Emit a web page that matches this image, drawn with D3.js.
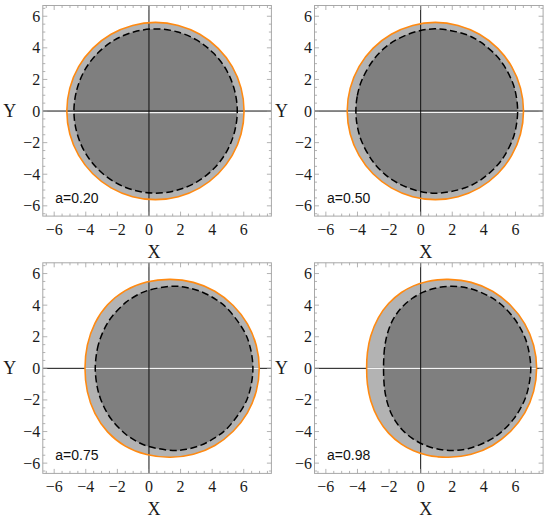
<!DOCTYPE html>
<html>
<head>
<meta charset="utf-8">
<script src="https://cdn.jsdelivr.net/npm/d3@7"></script>
<style>
  html, body { margin: 0; padding: 0; background: #fff; }
  svg { display: block; }
</style>
</head>
<body>
<div id="chart"></div>
<script>
// ---------- data ----------
const panelLabels = ["a=0.20", "a=0.50", "a=0.75", "a=0.98"];
const xTicks = [-6, -4, -2, 0, 2, 4, 6];
const yTicks = [-6, -4, -2, 0, 2, 4, 6];

// upper halves (left -> right) of the outer (orange) boundaries
const outer020 = [[-5.20,0],[-5.01,1.45],[-4.45,2.81],[-3.56,3.97],[-2.40,4.86],[-1.04,5.42],[0.41,5.61],[1.86,5.42],[3.22,4.86],[4.38,3.97],[5.27,2.81],[5.83,1.45],[6.02,0]];
const outer050 = [[-4.65,0],[-4.46,1.45],[-3.90,2.81],[-3.02,3.97],[-1.86,4.86],[-0.51,5.42],[0.93,5.61],[2.37,5.42],[3.72,4.86],[4.88,3.97],[5.76,2.81],[6.32,1.45],[6.51,0]];
const outer075 = [[-4.05,0],[-3.90,1.47],[-3.42,2.85],[-2.62,4.02],[-1.50,4.92],[-0.15,5.46],[1.35,5.63],[2.81,5.44],[4.17,4.88],[5.33,3.98],[6.23,2.82],[6.79,1.46],[6.98,0]];
const outer098 = [[-3.42,0],[-3.37,1.0],[-3.16,2.05],[-2.68,3.20],[-2.03,4.10],[-1.22,4.80],[-0.45,5.22],[0.42,5.50],[1.07,5.60],[1.75,5.63],[3.20,5.44],[4.55,4.88],[5.70,3.98],[6.59,2.82],[7.15,1.46],[7.34,0]];

// upper halves (left -> right) of the inner (dashed) boundaries
const inner020 = [[-4.75,0],[-4.57,1.34],[-4.06,2.60],[-3.24,3.67],[-2.17,4.50],[-0.92,5.02],[0.42,5.20],[1.76,5.02],[3.01,4.50],[4.08,3.67],[4.90,2.60],[5.41,1.34],[5.59,0]];
const inner050 = [[-4.10,0],[-4.01,0.97],[-3.72,1.96],[-3.00,3.23],[-2.26,4.01],[-1.49,4.54],[-0.28,5.03],[1.00,5.20],[2.82,4.86],[3.78,4.37],[4.77,3.53],[5.28,2.87],[5.80,1.85],[6.01,1.15],[6.14,0]];
const inner075 = [[-3.40,0],[-3.27,1.21],[-3.08,1.89],[-2.70,2.73],[-2.30,3.33],[-1.47,4.17],[-0.80,4.61],[-0.08,4.93],[1.50,5.20],[2.37,5.12],[3.30,4.86],[4.27,4.34],[4.96,3.79],[6.04,2.32],[6.41,1.32],[6.58,0]];
const inner098 = [[-2.35,0],[-2.32,0.91],[-2.26,1.47],[-2.12,2.14],[-1.85,2.89],[-1.53,3.44],[-1.14,3.92],[-0.55,4.42],[0.16,4.82],[1.00,5.09],[1.96,5.20],[3.05,5.07],[4.26,4.60],[5.06,4.07],[5.89,3.20],[6.47,2.24],[6.77,1.43],[6.97,0]];

const outerSeries = [outer020, outer050, outer075, outer098];
const innerSeries = [inner020, inner050, inner075, inner098];

// ---------- layout / style ----------
const W = 550, H = 520;
const xDomain = [-6.72, 7.75], yDomain = [-6.65, 6.68];
const plotW = 228.6, plotH = 210.6;
const origins = [[42.8, 5.5], [314.5, 5.5], [42.8, 262.8], [314.5, 262.8]];
const seamOffset = [1.6, 1.3, 0, 0];

const svg = d3.select("#chart").append("svg")
  .attr("width", W).attr("height", H);

const x = d3.scaleLinear().domain(xDomain).range([0, plotW]);
const y = d3.scaleLinear().domain(yDomain).range([plotH, 0]);

function closed(upper) {
  const lower = upper.slice(1, -1).reverse().map(([a, b]) => [a, -b]);
  return upper.concat(lower);
}
const line = d3.line().x(d => x(d[0])).y(d => y(d[1])).curve(d3.curveCatmullRomClosed.alpha(0.5));

const fmt = v => (v < 0 ? "\u2212" + Math.abs(v) : String(v));

panelLabels.forEach((label, i) => {
  const [ox, oy] = origins[i];
  const g = svg.append("g").attr("transform", `translate(${ox},${oy})`);

  const clipId = "clip" + i;
  g.append("clipPath").attr("id", clipId)
    .append("rect").attr("width", plotW).attr("height", plotH);
  const pg = g.append("g").attr("clip-path", `url(#${clipId})`);

  const outer = closed(outerSeries[i]);
  const inner = closed(innerSeries[i]);

  pg.append("path").attr("d", line(outer)).attr("fill", "#b3b3b3").attr("stroke", "none");
  pg.append("path").attr("d", line(inner)).attr("fill", "#7f7f7f").attr("stroke", "none");

  // horizontal axis
  pg.append("line").attr("x1", 0).attr("x2", plotW)
    .attr("y1", y(0)).attr("y2", y(0))
    .attr("stroke", "#111").attr("stroke-width", 1);

  // light seam along y = 0 inside the region
  const xs = outerSeries[i].map(d => d[0]);
  pg.append("line")
    .attr("x1", x(d3.min(xs))).attr("x2", x(d3.max(xs)))
    .attr("y1", y(0) + seamOffset[i]).attr("y2", y(0) + seamOffset[i])
    .attr("stroke", "#f4f4f4").attr("stroke-width", 1.2);

  // vertical axis
  pg.append("line").attr("x1", x(0)).attr("x2", x(0))
    .attr("y1", 0).attr("y2", plotH)
    .attr("stroke", "#111").attr("stroke-width", 1);

  pg.append("path").attr("d", line(outer)).attr("fill", "none")
    .attr("stroke", "#ff8a12").attr("stroke-width", 1.6);
  pg.append("path").attr("d", line(inner)).attr("fill", "none")
    .attr("stroke", "#000").attr("stroke-width", 1.5)
    .attr("stroke-dasharray", "7,3.5");

  // frame
  g.append("rect").attr("width", plotW).attr("height", plotH)
    .attr("fill", "none").attr("stroke", "#a8a8a8").attr("stroke-width", 1);

  // ticks (inside frame, on all four sides)
  const tickCol = "#a0a0a0";
  const minorX = d3.range(-6.5, 7.76, 0.5).filter(v => v >= xDomain[0] && v <= xDomain[1] && !xTicks.includes(v));
  const minorY = d3.range(-6.5, 6.6, 0.5).filter(v => v >= yDomain[0] && v <= yDomain[1] && !yTicks.includes(v));
  const tk = g.append("g").attr("stroke", tickCol).attr("stroke-width", 0.8);
  xTicks.forEach(v => {
    tk.append("line").attr("x1", x(v)).attr("x2", x(v)).attr("y1", plotH).attr("y2", plotH - 4.5);
    tk.append("line").attr("x1", x(v)).attr("x2", x(v)).attr("y1", 0).attr("y2", 4.5);
  });
  minorX.forEach(v => {
    tk.append("line").attr("x1", x(v)).attr("x2", x(v)).attr("y1", plotH).attr("y2", plotH - 2.5);
    tk.append("line").attr("x1", x(v)).attr("x2", x(v)).attr("y1", 0).attr("y2", 2.5);
  });
  yTicks.forEach(v => {
    tk.append("line").attr("y1", y(v)).attr("y2", y(v)).attr("x1", 0).attr("x2", 4.5);
    tk.append("line").attr("y1", y(v)).attr("y2", y(v)).attr("x1", plotW).attr("x2", plotW - 4.5);
  });
  minorY.forEach(v => {
    tk.append("line").attr("y1", y(v)).attr("y2", y(v)).attr("x1", 0).attr("x2", 2.5);
    tk.append("line").attr("y1", y(v)).attr("y2", y(v)).attr("x1", plotW).attr("x2", plotW - 2.5);
  });

  // tick labels
  const serif = "'Liberation Serif', 'Times New Roman', serif";
  xTicks.forEach(v => {
    g.append("text").attr("x", x(v)).attr("y", plotH + 18.5)
      .attr("text-anchor", "middle").attr("font-family", serif)
      .attr("font-size", 16).attr("fill", "#1a1a1a").text(fmt(v));
  });
  yTicks.forEach(v => {
    g.append("text").attr("x", -2.5).attr("y", y(v) + 5.5)
      .attr("text-anchor", "end").attr("font-family", serif)
      .attr("font-size", 16).attr("fill", "#1a1a1a").text(fmt(v));
  });

  // axis titles
  g.append("text").attr("x", plotW / 2 - 3).attr("y", plotH + 42)
    .attr("text-anchor", "middle").attr("font-family", serif)
    .attr("font-size", 18).attr("fill", "#1a1a1a").text("X");
  g.append("text").attr("x", -33).attr("y", y(0) + 6)
    .attr("text-anchor", "middle").attr("font-family", serif)
    .attr("font-size", 18).attr("fill", "#1a1a1a").text("Y");

  // panel label
  g.append("text").attr("x", 12.5).attr("y", 197.5)
    .attr("font-family", "'Liberation Sans', Arial, sans-serif")
    .attr("font-size", 14).attr("fill", "#111").text(label);
});
</script>
</body>
</html>
